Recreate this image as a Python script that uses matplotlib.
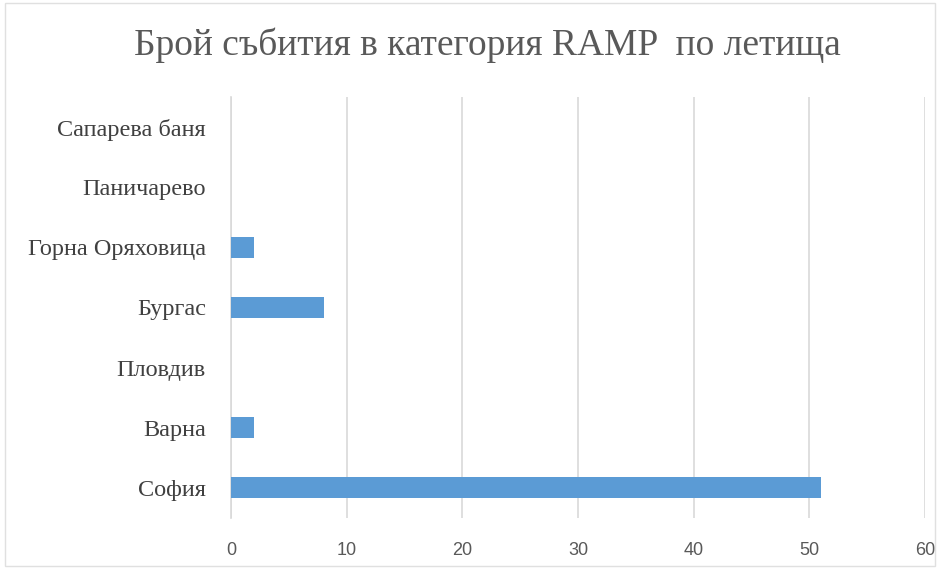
import matplotlib
matplotlib.use("Agg")
import matplotlib.pyplot as plt
from matplotlib.patches import Rectangle

categories = ["София", "Варна", "Пловдив", "Бургас", "Горна Оряховица", "Паничарево", "Сапарева баня"]
values = [51, 2, 0, 8, 2, 0, 0]
xticks = [0, 10, 20, 30, 40, 50, 60]
title = "Брой събития в категория RAMP  по летища"

fig = plt.figure(figsize=(9.45, 5.69), dpi=100)
ax = fig.add_axes([231/945, 1-518/569, (925-231)/945, (518-97)/569])

ypos = list(range(len(categories)))
ax.barh(ypos, values, height=0.35, color="#5B9BD5", zorder=3)
ax.set_ylim(-0.5, len(categories)-0.5)
ax.set_xlim(0, 60)
ax.set_xticks(xticks)
ax.set_xticklabels([str(t) for t in xticks], fontfamily="Liberation Sans", fontsize=13, color="#595959")
ax.set_yticks(ypos)
ax.set_yticklabels(categories, fontfamily="Liberation Serif", fontsize=17.5, color="#404040")
ax.tick_params(axis="both", length=0)
ax.tick_params(axis="x", pad=17)
ax.tick_params(axis="y", pad=18)
ax.grid(axis="x", color="#D9D9D9", linewidth=1.2, zorder=0)
for s in ["top", "right", "bottom"]:
    ax.spines[s].set_visible(False)
ax.spines["left"].set_color("#D9D9D9")
ax.spines["left"].set_linewidth(1.2)

fig.text(487/945, 1-45/569, title, ha="center", va="center", fontfamily="Liberation Serif",
         fontsize=27, color="#595959")

fig.patches.append(Rectangle((5/945, 0.005), 930/945, 0.99, transform=fig.transFigure,
                             fill=False, edgecolor="#E0E0E0", linewidth=1))

fig.savefig("out.png", dpi=100)
